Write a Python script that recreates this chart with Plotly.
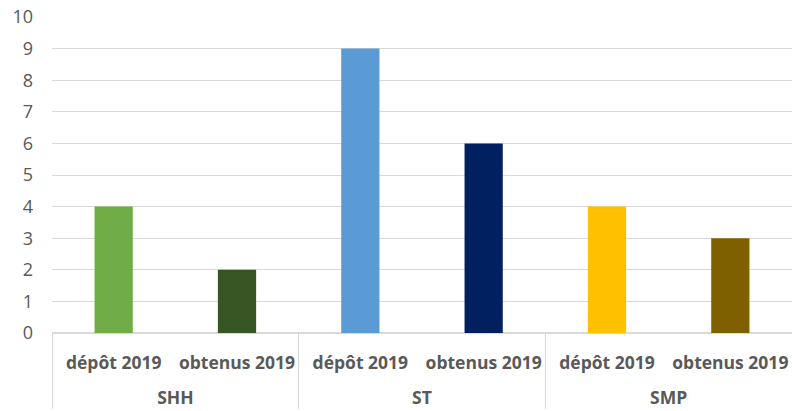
import plotly.graph_objects as go

groups = ["SHH", "SHH", "ST", "ST", "SMP", "SMP"]
labels = ["dépôt 2019", "obtenus 2019", "dépôt 2019", "obtenus 2019", "dépôt 2019", "obtenus 2019"]
values = [4, 2, 9, 6, 4, 3]
colors = ["#70AD47", "#375623", "#5B9BD5", "#002060", "#FFC000", "#7F6000"]

# a leading break pushes the group row further down, like in Excel
group_text = ["<br>" + g for g in groups]

fig = go.Figure()
fig.add_trace(go.Bar(
    x=[group_text, labels],
    y=values,
    marker=dict(color=colors, line=dict(width=0)),
    showlegend=False,
))

fig.update_layout(
    width=792,
    height=411,
    margin=dict(l=52, r=0, t=17, b=78),
    paper_bgcolor="white",
    plot_bgcolor="white",
    bargap=0.69,
    font=dict(family="Open Sans", color="#595959", size=16),
)

fig.update_xaxes(
    automargin=False,
    showline=True,
    linecolor="#D9D9D9",
    linewidth=1,
    showdividers=True,
    dividercolor="#D9D9D9",
    dividerwidth=1,
    tickfont=dict(size=17.5, weight="bold", color="#595959"),
    tickangle=0,
    ticks="",
    ticklabelstandoff=14,
)

fig.update_yaxes(
    automargin=False,
    range=[0, 10],
    dtick=1,
    showgrid=True,
    gridcolor="#D9D9D9",
    gridwidth=1,
    zeroline=True,
    zerolinecolor="#D9D9D9",
    ticklabelstandoff=18,
    tickfont=dict(size=18, color="#595959"),
)

# drop the default 8px body margin so the figure fills the window
fig.write_html(
    "out.html",
    config={"displayModeBar": False},
    post_script="document.body.style.margin='0';",
)
